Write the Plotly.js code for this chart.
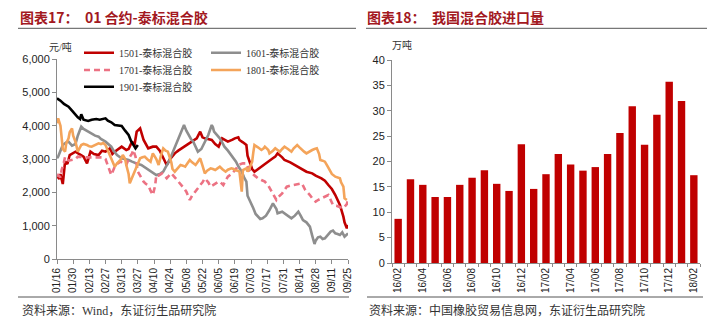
<!DOCTYPE html>
<html><head><meta charset="utf-8">
<script src="https://cdn.plot.ly/plotly-3.0.1.min.js"></script>
<style>
body{margin:0;background:#fff;width:716px;height:334px;overflow:hidden;position:relative}
#left{position:absolute;left:0;top:0;width:360px;height:334px}
#right{position:absolute;left:360px;top:0;width:356px;height:334px}
</style></head><body>
<div id="left"></div><div id="right"></div>
<script>
// ---------- Left chart data (days since 01/16, price yuan/ton) ----------
const xTickDays = [0,14,28,42,56,70,84,98,112,126,140,154,168,182,196,210,224,238,252];
const xTickLabels = ['01/16','01/30','02/13','02/27','03/13','03/27','04/10','04/24','05/08','05/22','06/05','06/19','07/03','07/17','07/31','08/14','08/28','09/11','09/25'];

const days1501 = [0,2,3,5,7,9,11,16,19,23,26,29,32,36,39,42,46,48,50,53,56,60,62,65,67,69,72,75,77,79,83,86,89,92,95,98,102,105,108,112,115,118,121,124,126,128,131,134,137,140,143,146,148,152,154,157,158,161,164,165,167,169,171,174,177,180,183,186,189,191,195,197,202,206,210,213,216,221,224,229,232,235,238,241,243,245,248,249,251,252];
const price1501 = [2500,2400,2550,2250,2920,2850,3120,3220,3150,3070,2870,3220,3150,3120,3250,3220,3320,3150,3220,3300,3370,3270,3300,3520,3400,3820,3920,3570,3450,3320,3370,3370,3250,3050,2820,3000,3170,3250,3320,3400,3470,3550,3620,3820,3650,3620,3600,3570,3450,3370,3620,3550,3520,3580,3620,3650,3570,3500,3420,3100,2920,2700,2620,2700,2770,2850,2920,3000,3070,3170,3050,2970,2900,2820,2750,2670,2620,2570,2500,2420,2350,2220,2100,1920,1750,1620,1270,1100,920,1020];

const days1601 = [0,1,3,5,8,10,13,16,18,21,23,26,28,30,33,36,38,42,44,47,49,52,56,59,62,65,68,70,73,76,79,81,83,86,89,92,94,96,99,101,103,105,107,110,112,114,116,118,120,122,125,126,129,131,134,135,136,139,141,143,145,148,151,153,155,157,160,162,164,165,168,170,172,174,176,178,181,184,187,190,191,195,197,200,203,206,209,211,213,216,219,221,223,224,226,228,230,232,235,237,239,241,243,245,247,249,252];
const price1601 = [3020,3070,3250,3420,3500,3520,3400,3450,3700,3970,3900,3840,3800,3770,3700,3670,3600,3520,3450,3370,3250,3120,3020,3000,2970,2920,2870,2850,2820,2750,2670,2620,2570,2520,2550,2620,2750,2870,3100,3270,3450,3620,3800,4020,3850,3720,3600,3520,3350,3220,3300,3370,3550,3720,4020,3950,3820,3700,3620,3500,3370,3250,3120,3000,2920,2780,2620,2450,2320,1900,1700,1520,1350,1270,1200,1220,1300,1470,1670,1500,1370,1420,1370,1300,1220,1300,1420,1300,1170,1100,970,700,450,550,650,670,600,620,750,820,850,770,750,720,800,670,770];

const days1701 = [0,1,3,4,6,7,10,13,16,18,22,25,29,32,36,39,42,44,46,47,48,50,52,55,57,60,62,65,66,68,70,73,75,77,79,81,83,85,86,88,91,93,95,97,99,102,104,106,108,110,112,114,115,117,120,122,124,126,128,131,133,135,137,139,141,144,146,148,151,153,155,157,159,161,164,166,169,171,174,177,180,183,186,188,190,192,195,197,199,202,205,208,212,215,217,219,221,224,226,229,232,235,237,239,242,244,246,248,251,252];
const price1701 = [2470,2520,2450,2670,2900,3070,2950,2970,3000,3070,3050,3050,3050,3050,3070,3050,3000,2820,2650,2520,2600,2770,2850,2920,2900,2820,3000,3170,3270,3070,2620,2450,2320,2250,2220,2050,1920,2200,2520,2500,2570,2500,2420,2500,2570,2450,2370,2300,2220,2120,2020,1850,1770,1900,2020,2120,2220,2300,2420,2300,2170,2220,2270,2300,2320,2220,2350,2470,2550,2620,2700,2820,2850,2870,2870,2700,2570,2500,2420,2370,2320,2200,2020,1900,1770,1870,1970,2070,2170,2200,2220,2250,2270,2070,2000,1920,1820,1720,1770,1820,1870,1920,1770,1620,1600,1570,1550,1520,1650,1770];

const days1801 = [0,1,3,4,5,7,8,10,11,13,14,16,17,18,21,23,26,28,30,33,36,38,40,42,44,46,48,50,52,55,57,59,60,62,63,65,68,70,72,74,76,78,81,82,83,86,88,90,92,94,96,99,100,102,104,107,109,111,113,115,117,120,122,124,126,128,130,133,135,137,139,141,143,146,148,151,153,154,157,158,160,161,164,165,167,169,170,171,174,177,179,180,183,184,187,189,191,193,195,197,200,203,205,208,210,212,214,216,218,221,223,225,227,228,230,232,234,236,238,241,243,245,246,248,249,251];
const price1801 = [4070,4220,4000,3620,3300,3220,3470,3620,3800,3920,3700,3520,3350,3220,3420,3450,3420,3380,3370,3420,3470,3450,3480,3420,3250,3070,2900,2770,2870,2970,3120,3000,2820,2550,2270,2450,2720,2900,3020,3050,3070,3000,2920,3050,3170,3000,2820,3100,3320,3250,3220,2900,2700,2620,2700,2820,2800,2770,2870,2970,2900,2820,2920,3020,2800,2570,2650,2720,2700,2670,2720,2770,2700,2620,2680,2720,2700,2670,2640,2620,2020,2670,2720,2620,2750,2920,3200,3420,3350,3270,3320,3370,3270,3170,3250,3320,3270,3220,3300,3370,3300,3220,3320,3420,3350,3270,3220,3170,3220,3270,3300,3320,3150,2970,2950,2920,2800,2670,2550,2470,2450,2420,2300,2170,1820,1770];

const days1901 = [0,3,6,10,13,16,18,20,21,23,27,30,34,37,42,44,47,50,53,56,59,62,64,66,68,70];
const price1901 = [4820,4750,4650,4570,4450,4320,4250,4200,4340,4180,4140,4180,4200,4180,4220,4150,4100,4020,4000,3990,3850,3720,3550,3420,3320,3420];

const seriesNames = ['1501-泰标混合胶','1601-泰标混合胶','1701-泰标混合胶','1801-泰标混合胶','1901-泰标混合胶'];

// ---------- Right chart data (10k tons) ----------
const months = ['16/02','16/03','16/04','16/05','16/06','16/07','16/08','16/09','16/10','16/11','16/12','17/01','17/02','17/03','17/04','17/05','17/06','17/07','17/08','17/09','17/10','17/11','17/12','18/01','18/02'];
const imports = [8.7,16.5,15.4,13.0,13.0,15.4,16.8,18.3,15.6,14.2,23.4,14.6,17.5,21.5,19.4,18.2,18.9,21.5,25.6,30.9,23.3,29.2,35.7,31.9,17.3];

const titleColor = '#A3191F';
const cjk = '"Noto Sans CJK SC", sans-serif';
const serifCjk = '"Liberation Serif", "Noto Sans CJK SC", serif';
const arial = 'Arial, "Liberation Sans", sans-serif';

function lineTrace(x, y, name, color, dash, legend) {
  return {x: x, y: y, name: name, type: 'scatter', mode: 'lines',
    line: {color: color, width: 2.6, dash: dash || 'solid'},
    legend: legend, hoverinfo: 'skip'};
}

const leftData = [
  lineTrace(days1501, price1501, seriesNames[0], '#C00000', null, 'legend'),
  lineTrace(days1601, price1601, seriesNames[1], '#8E8E8E', null, 'legend'),
  lineTrace(days1701, price1701, seriesNames[2], '#EC7283', '6px,4px', 'legend2'),
  lineTrace(days1801, price1801, seriesNames[3], '#F4A45A', null, 'legend3'),
  lineTrace(days1901, price1901, seriesNames[4], '#000000', null, 'legend4')
];

// left plot area: x 57..348, y 59..259 (w 291, h 200)
const legendBase = {orientation: 'h', xanchor: 'left', yanchor: 'middle', bgcolor: 'rgba(0,0,0,0)',
  font: {family: serifCjk, size: 10, color: '#333'}, entrywidth: 82, itemclick: false};

const leftLayout = {
  width: 360, height: 334,
  margin: {l: 57, r: 12, t: 59, b: 75},
  paper_bgcolor: '#fff', plot_bgcolor: '#fff',
  showlegend: true,
  title: {text: '图表17：  01 合约-泰标混合胶', xref: 'container', yref: 'container', x: 20/360, y: 1 - 17.7/334,
    xanchor: 'left', yanchor: 'middle', font: {family: cjk, size: 14, color: titleColor, weight: 'bold'}},
  xaxis: {type: 'linear', range: [0, 252], tickvals: xTickDays, ticktext: xTickLabels, tickangle: -90,
    showline: true, linecolor: '#8a8a8a', linewidth: 1, ticks: 'outside', ticklen: 4, tickcolor: '#8a8a8a',
    showgrid: false, zeroline: false, tickfont: {family: arial, size: 10, color: '#222'}},
  yaxis: {range: [0, 6000], dtick: 1000, tickformat: ',d', showline: true, linecolor: '#8a8a8a', linewidth: 1,
    ticks: 'outside', ticklen: 4, tickcolor: '#8a8a8a', showgrid: false, zeroline: false,
    tickfont: {family: arial, size: 11, color: '#222'}},
  legend: Object.assign({}, legendBase, {x: (79-57)/291, y: (259-52.7)/200}),
  legend2: Object.assign({}, legendBase, {x: (79-57)/291, y: (259-70)/200}),
  legend3: Object.assign({}, legendBase, {x: (79-57)/291 + 127/291, y: (259-70)/200}),
  legend4: Object.assign({}, legendBase, {x: (79-57)/291, y: (259-86.7)/200}),
  shapes: [
    {type: 'line', xref: 'paper', yref: 'paper', x0: (18-57)/291, x1: (356-57)/291, y0: (259-28.3)/200, y1: (259-28.3)/200, line: {color: '#555', width: 1}},
    {type: 'line', xref: 'paper', yref: 'paper', x0: (18-57)/291, x1: (349-57)/291, y0: (259-297)/200, y1: (259-297)/200, line: {color: '#555', width: 1}}
  ],
  annotations: [
    {text: '元/吨', xref: 'paper', yref: 'paper', x: (60-57)/291, y: (259-46.7)/200, xanchor: 'center', yanchor: 'middle', showarrow: false,
      font: {family: serifCjk, size: 10, color: '#333'}},
    {text: '资料来源：Wind，东证衍生品研究院', xref: 'paper', yref: 'paper', x: (20-57)/291, y: (259-310)/200, xanchor: 'left', yanchor: 'middle', showarrow: false,
      font: {family: serifCjk, size: 12, color: '#333'}}
  ]
};

// right plot area (div coords): x 32..340, y 60..263 (w 308, h 203)
const rightData = [{
  x: months, y: imports, type: 'bar', marker: {color: '#C00000'}, hoverinfo: 'skip', showlegend: false
}];
const rightLayout = {
  width: 356, height: 334,
  margin: {l: 32, r: 16, t: 60, b: 71},
  paper_bgcolor: '#fff', plot_bgcolor: '#fff',
  bargap: 0.4,
  title: {text: '图表18：  我国混合胶进口量', xref: 'container', yref: 'container', x: 7/356, y: 1 - 17.7/334,
    xanchor: 'left', yanchor: 'middle', font: {family: cjk, size: 14, color: titleColor, weight: 'bold'}},
  xaxis: {type: 'category', range: [-0.5, 24.5], tickvals: months, ticktext: months.map((m, i) => i % 2 === 0 ? m : ''),
    tickangle: -90, tickson: 'boundaries', showline: true, linecolor: '#8a8a8a', linewidth: 1, ticks: 'outside', ticklen: 3,
    tickcolor: '#8a8a8a', showgrid: false, zeroline: false, tickfont: {family: arial, size: 10, color: '#222'}},
  yaxis: {range: [0, 40], dtick: 5, showline: true, linecolor: '#8a8a8a', linewidth: 1, ticks: 'outside', ticklen: 4,
    tickcolor: '#8a8a8a', showgrid: false, zeroline: false, tickfont: {family: arial, size: 11, color: '#222'}},
  shapes: [
    {type: 'line', xref: 'paper', yref: 'paper', x0: (6-32)/308, x1: (347-32)/308, y0: (263-28.3)/203, y1: (263-28.3)/203, line: {color: '#555', width: 1}},
    {type: 'line', xref: 'paper', yref: 'paper', x0: (7-32)/308, x1: (343-32)/308, y0: (263-297)/203, y1: (263-297)/203, line: {color: '#555', width: 1}}
  ],
  annotations: [
    {text: '万吨', xref: 'paper', yref: 'paper', x: (42-32)/308, y: (263-45)/203, xanchor: 'center', yanchor: 'middle', showarrow: false,
      font: {family: serifCjk, size: 10, color: '#333'}},
    {text: '资料来源：中国橡胶贸易信息网，东证衍生品研究院', xref: 'paper', yref: 'paper', x: (7-32)/308, y: (263-310)/203, xanchor: 'left', yanchor: 'middle', showarrow: false,
      font: {family: serifCjk, size: 12, color: '#333'}}
  ]
};

const cfg = {staticPlot: true, displayModeBar: false};
Plotly.newPlot('left', leftData, leftLayout, cfg);
Plotly.newPlot('right', rightData, rightLayout, cfg);
</script></body></html>
